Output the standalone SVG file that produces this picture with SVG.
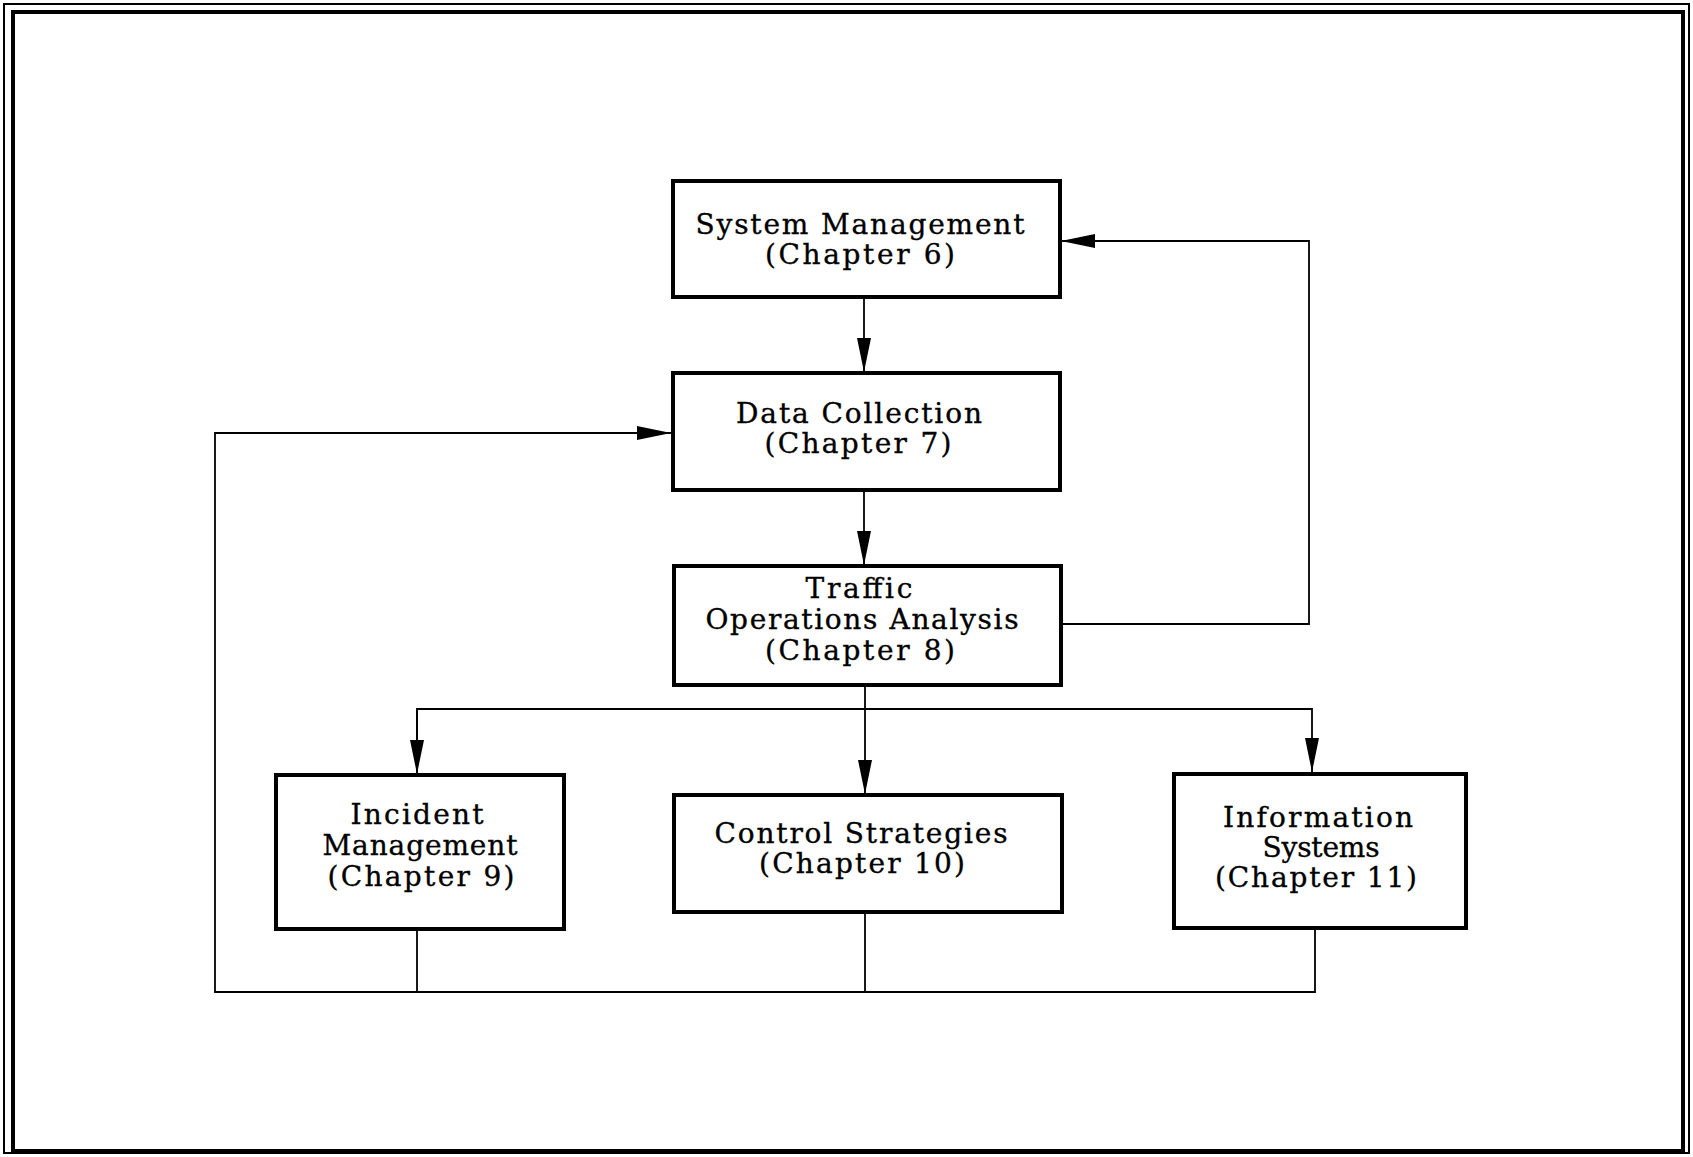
<svg xmlns="http://www.w3.org/2000/svg" width="1693" height="1157" viewBox="0 0 1693 1157">
<style>
  .box { fill: #fff; stroke: #000; stroke-width: 4; }
  .lbl { font-family: "DejaVu Serif", "Liberation Serif", serif; font-size: 28px; fill: #000; stroke: #000; stroke-width: 0.35; text-anchor: middle; }
  .conn { fill: none; stroke: #000; stroke-width: 1.8; }
</style>
<defs>
  <marker id="arr" markerUnits="userSpaceOnUse" markerWidth="36" markerHeight="16" refX="34" refY="7" orient="auto">
    <path d="M0,0 L34,7 L0,14 Z" fill="#000"/>
  </marker>
</defs>
<rect width="1693" height="1157" fill="#fff"/>
<g id="frame">
  <rect x="4" y="4" width="1685" height="1149" fill="none" stroke="#000" stroke-width="2"/>
  <rect x="13" y="12" width="1670" height="1139" fill="none" stroke="#000" stroke-width="4"/>
</g>
<g id="connectors">
  <line class="conn" x1="864" y1="297" x2="864" y2="372" marker-end="url(#arr)"/>
  <line class="conn" x1="864" y1="490" x2="864" y2="565" marker-end="url(#arr)"/>
  <line class="conn" x1="865" y1="685" x2="865" y2="794" marker-end="url(#arr)"/>
  <polyline class="conn" points="417,774 417,709 1312,709 1312,772" marker-end="url(#arr)"/>
  <line class="conn" x1="417" y1="709" x2="417" y2="774" marker-end="url(#arr)"/>
  <polyline class="conn" points="1061,624 1309,624 1309,241 1061,241" marker-end="url(#arr)"/>
  <polyline class="conn" points="417,929 417,992"/>
  <polyline class="conn" points="865,912 865,992"/>
  <polyline class="conn" points="1315,928 1315,992 215,992 215,433 671,433" marker-end="url(#arr)"/>
</g>
<g id="system-management">
  <rect class="box" x="673" y="181" width="387" height="116"/>
  <text class="lbl" x="860" y="234" textLength="329" lengthAdjust="spacing">System Management</text>
  <text class="lbl" x="860" y="264" textLength="190" lengthAdjust="spacing">(Chapter 6)</text>
</g>
<g id="data-collection">
  <rect class="box" x="673" y="373" width="387" height="117"/>
  <text class="lbl" x="859" y="423" textLength="246" lengthAdjust="spacing">Data Collection</text>
  <text class="lbl" x="858" y="453" textLength="187" lengthAdjust="spacing">(Chapter 7)</text>
</g>
<g id="traffic-operations-analysis">
  <rect class="box" x="674" y="566" width="387" height="119"/>
  <text class="lbl" x="859" y="598" textLength="107" lengthAdjust="spacing">Traffic</text>
  <text class="lbl" x="862" y="629" textLength="313" lengthAdjust="spacing">Operations Analysis</text>
  <text class="lbl" x="860" y="660" textLength="190" lengthAdjust="spacing">(Chapter 8)</text>
</g>
<g id="incident-management">
  <rect class="box" x="276" y="775" width="288" height="154"/>
  <text class="lbl" x="417" y="824" textLength="133" lengthAdjust="spacing">Incident</text>
  <text class="lbl" x="420" y="855" textLength="195" lengthAdjust="spacing">Management</text>
  <text class="lbl" x="421" y="886" textLength="187" lengthAdjust="spacing">(Chapter 9)</text>
</g>
<g id="control-strategies">
  <rect class="box" x="674" y="795" width="388" height="117"/>
  <text class="lbl" x="861" y="843" textLength="293" lengthAdjust="spacing">Control Strategies</text>
  <text class="lbl" x="862" y="873" textLength="206" lengthAdjust="spacing">(Chapter 10)</text>
</g>
<g id="information-systems">
  <rect class="box" x="1174" y="774" width="292" height="154"/>
  <text class="lbl" x="1318" y="827" textLength="190" lengthAdjust="spacing">Information</text>
  <text class="lbl" x="1321" y="857" textLength="117" lengthAdjust="spacing">Systems</text>
  <text class="lbl" x="1316" y="887" textLength="202" lengthAdjust="spacing">(Chapter 11)</text>
</g>
</svg>
